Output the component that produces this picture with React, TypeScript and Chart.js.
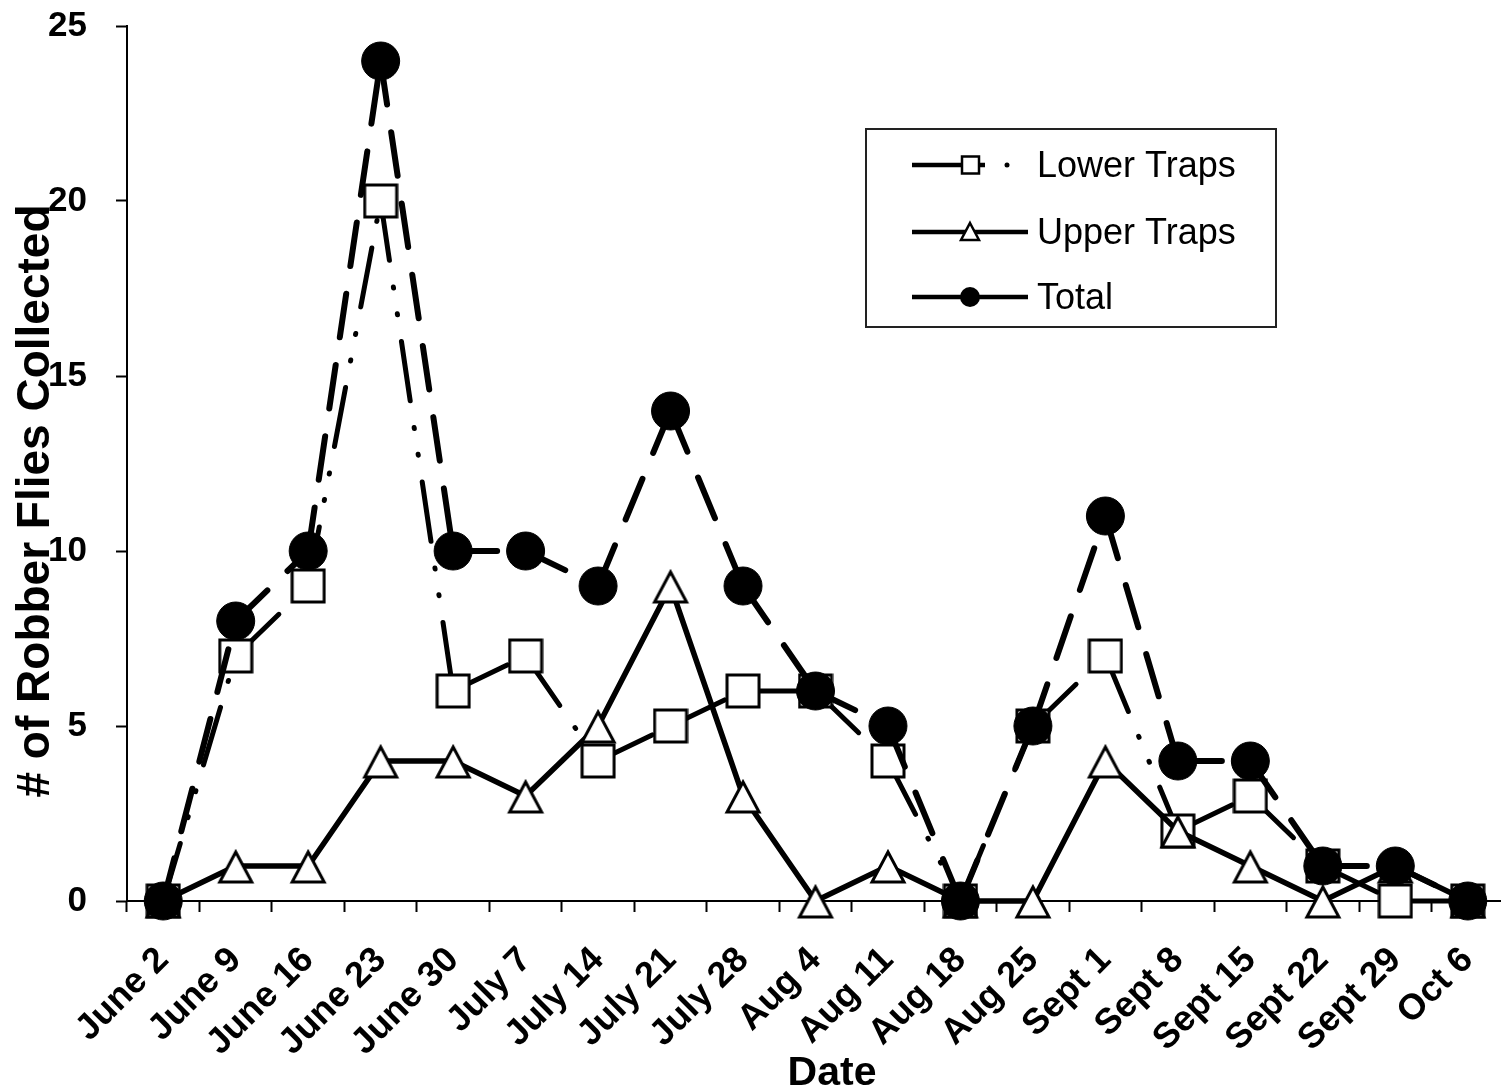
import React, { useEffect, useRef } from 'react';
import { Chart, registerables } from 'chart.js';

Chart.register(...registerables);

// ---- Data ----
const dates = [
  'June 2', 'June 9', 'June 16', 'June 23', 'June 30', 'July 7', 'July 14', 'July 21',
  'July 28', 'Aug 4', 'Aug 11', 'Aug 18', 'Aug 25', 'Sept 1', 'Sept 8', 'Sept 15',
  'Sept 22', 'Sept 29', 'Oct 6',
];
const lowerTraps = [0, 7, 9, 20, 6, 7, 4, 5, 6, 6, 4, 0, 5, 7, 2, 3, 1, 0, 0];
const upperTraps = [0, 1, 1, 4, 4, 3, 5, 9, 3, 0, 1, 0, 0, 4, 2, 1, 0, 1, 0];
const totalFlies = [0, 8, 10, 24, 10, 10, 9, 14, 9, 6, 5, 0, 5, 11, 4, 4, 1, 1, 0];
const yTicks = [0, 5, 10, 15, 20, 25];
const seriesNames = ['Lower Traps', 'Upper Traps', 'Total'];
const yTitle = '# of Robber Flies Collected';
const xTitle = 'Date';

const FONT = '"Liberation Sans", Arial, Helvetica, sans-serif';
const LOWER_DASH = [60, 27, 1, 26, 1, 27];
const TOTAL_DASH = [44, 28];

function makeSquare(): HTMLCanvasElement {
  const c = document.createElement('canvas');
  c.width = 36;
  c.height = 36;
  const g = c.getContext('2d')!;
  g.fillStyle = '#fff';
  g.fillRect(2, 2, 32, 32);
  g.strokeStyle = '#000';
  g.lineWidth = 3;
  g.strokeRect(2, 2, 32, 32);
  return c;
}

function makeTriangle(): HTMLCanvasElement {
  const c = document.createElement('canvas');
  c.width = 40;
  c.height = 38;
  const g = c.getContext('2d')!;
  g.beginPath();
  g.moveTo(20, 5);
  g.lineTo(36, 35);
  g.lineTo(4, 35);
  g.closePath();
  g.fillStyle = '#fff';
  g.fill();
  g.lineJoin = 'miter';
  g.strokeStyle = '#000';
  g.lineWidth = 3;
  g.stroke();
  return c;
}

const overlayPlugin = {
  id: 'overlay',
  afterDraw(chart: any) {
    const ctx: CanvasRenderingContext2D = chart.ctx;
    ctx.save();
    ctx.fillStyle = '#000';
    // axis titles
    ctx.font = `bold 46px ${FONT}`;
    ctx.textAlign = 'center';
    ctx.textBaseline = 'alphabetic';
    ctx.save();
    ctx.translate(49, 501);
    ctx.rotate(-Math.PI / 2);
    ctx.fillText(yTitle, 0, 0);
    ctx.restore();
    ctx.font = `bold 41px ${FONT}`;
    ctx.fillText(xTitle, 832, 1085);

    // legend
    ctx.fillStyle = '#fff';
    ctx.fillRect(866, 129, 410, 198);
    ctx.strokeStyle = '#222';
    ctx.lineWidth = 2;
    ctx.strokeRect(866, 129, 410, 198);
    const rows = [165, 232, 297];
    const names = chart.data.datasets.map((d: any) => d.label);
    ctx.strokeStyle = '#000';
    ctx.fillStyle = '#000';
    ctx.lineWidth = 4.5;
    ctx.lineCap = 'butt';
    // lower
    ctx.beginPath();
    ctx.moveTo(912, rows[0]);
    ctx.lineTo(985, rows[0]);
    ctx.stroke();
    ctx.beginPath();
    ctx.arc(1007, rows[0], 2.5, 0, Math.PI * 2);
    ctx.fill();
    ctx.fillStyle = '#fff';
    ctx.lineWidth = 2.5;
    ctx.fillRect(962, rows[0] - 8.5, 17, 17);
    ctx.strokeRect(962, rows[0] - 8.5, 17, 17);
    // upper
    ctx.lineWidth = 4.5;
    ctx.beginPath();
    ctx.moveTo(912, rows[1]);
    ctx.lineTo(1028, rows[1]);
    ctx.stroke();
    ctx.beginPath();
    ctx.moveTo(970, rows[1] - 9);
    ctx.lineTo(979, rows[1] + 8);
    ctx.lineTo(961, rows[1] + 8);
    ctx.closePath();
    ctx.fillStyle = '#fff';
    ctx.fill();
    ctx.lineWidth = 2.5;
    ctx.stroke();
    // total
    ctx.lineWidth = 4.5;
    ctx.beginPath();
    ctx.moveTo(912, rows[2]);
    ctx.lineTo(1028, rows[2]);
    ctx.stroke();
    ctx.beginPath();
    ctx.arc(970, rows[2], 10, 0, Math.PI * 2);
    ctx.fillStyle = '#000';
    ctx.fill();

    ctx.fillStyle = '#000';
    ctx.font = `36px ${FONT}`;
    ctx.textAlign = 'left';
    ctx.textBaseline = 'middle';
    names.forEach((n: string, i: number) => ctx.fillText(n, 1037, rows[i] + 2));
    ctx.restore();
  },
};

export default function App() {
  const ref = useRef<HTMLCanvasElement>(null);
  useEffect(() => {
    document.body.style.margin = '0';
    const sq = makeSquare();
    const tri = makeTriangle();
    const segOffset = { borderDashOffset: (c: any) => c.p0DataIndex * 0.0001 };
    const chart = new Chart(ref.current!, {
      type: 'line',
      data: {
        labels: dates,
        datasets: [
          {
            label: seriesNames[0],
            data: lowerTraps,
            order: 3,
            borderColor: '#000',
            borderWidth: 5,
            borderDash: LOWER_DASH,
            borderCapStyle: 'round',
            pointStyle: sq as any,
            pointRadius: 18,
            pointBackgroundColor: '#fff',
            pointBorderColor: '#000',
            tension: 0,
            fill: false,
            clip: false as any,
            segment: segOffset as any,
          },
          {
            label: seriesNames[1],
            data: upperTraps,
            order: 2,
            borderColor: '#000',
            borderWidth: 5.5,
            pointStyle: tri as any,
            pointRadius: 18,
            pointBackgroundColor: '#fff',
            pointBorderColor: '#000',
            tension: 0,
            fill: false,
            clip: false as any,
          },
          {
            label: seriesNames[2],
            data: totalFlies,
            order: 1,
            borderColor: '#000',
            borderWidth: 6,
            borderDash: TOTAL_DASH,
            borderCapStyle: 'round',
            pointStyle: 'circle',
            pointRadius: 19,
            pointBackgroundColor: '#000',
            pointBorderColor: '#000',
            pointBorderWidth: 1,
            tension: 0,
            fill: false,
            clip: false as any,
            segment: segOffset as any,
          },
        ],
      },
      options: {
        responsive: false,
        animation: false,
        devicePixelRatio: 1,
        layout: { autoPadding: false, padding: { top: 26, left: 0, right: 0, bottom: 0 } },
        plugins: { legend: { display: false }, tooltip: { enabled: false } },
        scales: {
          x: {
            type: 'category',
            offset: true,
            grid: {
              display: true,
              offset: true,
              drawOnChartArea: false,
              drawTicks: true,
              tickLength: 11,
              tickWidth: 2,
              tickColor: '#000',
            },
            border: { display: true, color: '#000', width: 2 },
            ticks: {
              color: '#000',
              font: { family: FONT, size: 36, weight: 'bold' },
              minRotation: 45,
              maxRotation: 45,
              padding: 27,
              autoSkip: false,
            },
            afterFit: (s: any) => {
              s.height = 188;
              s.paddingLeft = 0;
              s.paddingRight = 0;
            },
          },
          y: {
            min: 0,
            max: 25,
            grid: {
              display: true,
              drawOnChartArea: false,
              drawTicks: true,
              tickLength: 11,
              tickWidth: 2,
              tickColor: '#000',
            },
            border: { display: true, color: '#000', width: 2 },
            ticks: {
              color: '#000',
              font: { family: FONT, size: 35, weight: 'bold' },
              padding: 29,
            },
            afterBuildTicks: (s: any) => {
              s.ticks = yTicks.map((v) => ({ value: v }));
            },
            afterFit: (s: any) => {
              s.width = 127;
              s.paddingTop = 0;
              s.paddingBottom = 0;
            },
          },
        },
      },
      plugins: [overlayPlugin],
    });
    return () => chart.destroy();
  }, []);

  return (
    <div style={{ position: 'fixed', left: 0, top: 0, width: 1501, height: 1089, overflow: 'hidden', background: '#fff' }}>
      <canvas ref={ref} width={1504} height={1089} style={{ display: 'block', width: 1504, height: 1089 }} />
    </div>
  );
}
